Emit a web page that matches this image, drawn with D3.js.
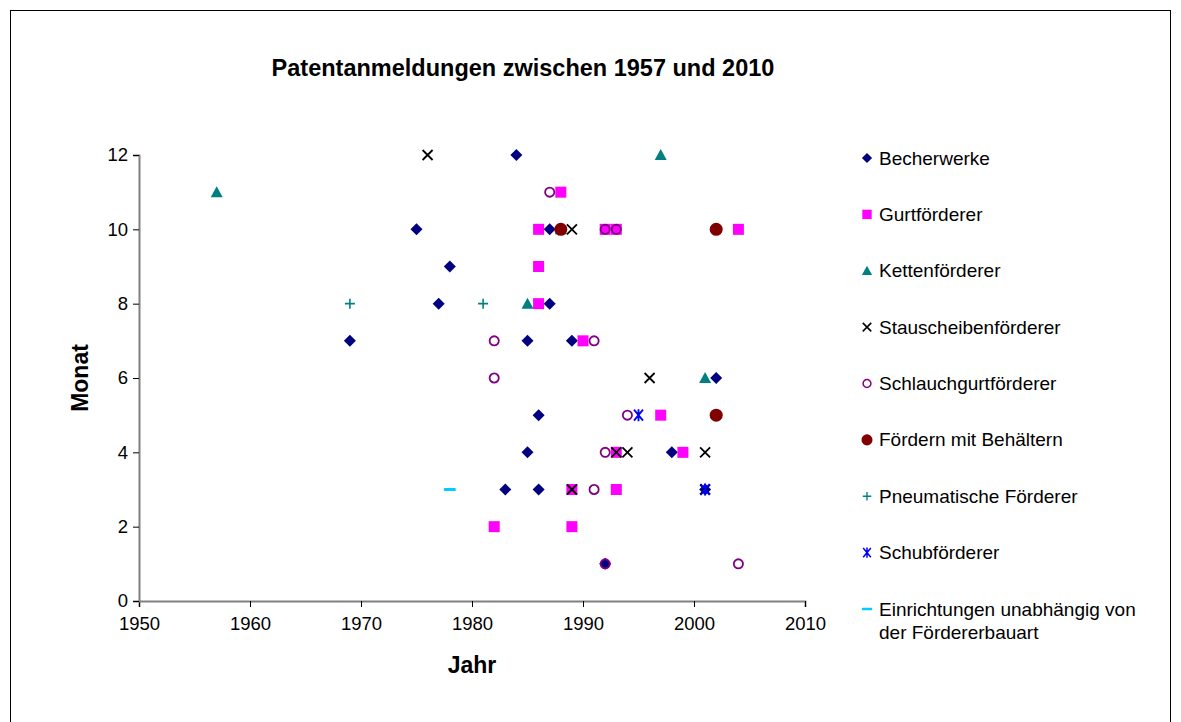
<!DOCTYPE html>
<html>
<head>
<meta charset="utf-8">
<script src="https://cdn.jsdelivr.net/npm/d3@7"></script>
<style>
  body { margin: 0; background: #fff; }
  text { font-family: "Liberation Sans", Arial, sans-serif; }
</style>
</head>
<body>
<svg id="chart" width="1181" height="722"></svg>
<script>
// [year, month] per series
const becherwerke = [[1969, 7], [1975, 10], [1977, 8], [1978, 9], [1984, 12], [1985, 7], [1985, 4], [1983, 3],
  [1986, 5], [1986, 3], [1987, 10], [1987, 8], [1989, 7], [1992, 1], [1998, 4], [2001, 3], [2002, 6]];
const gurtfoerderer = [[1982, 2], [1986, 10], [1986, 9], [1986, 8], [1988, 11], [1989, 3], [1989, 2], [1990, 7],
  [1992, 10], [1993, 10], [1993, 4], [1993, 3], [1997, 5], [1999, 4], [2004, 10]];
const kettenfoerderer = [[1957, 11], [1985, 8], [1988, 10], [1997, 12], [2001, 6]];
const stauscheiben = [[1976, 12], [1989, 10], [1989, 3], [1993, 4], [1994, 4], [1996, 6], [2001, 4], [2001, 3]];
const schlauchgurt = [[1982, 7], [1982, 6], [1987, 11], [1991, 7], [1991, 3], [1992, 10], [1993, 10], [1992, 4],
  [1992, 1], [1994, 5], [2004, 1]];
const behaelter = [[1988, 10], [2002, 10], [2002, 5]];
const pneumatisch = [[1969, 8], [1981, 8]];
const schub = [[1995, 5], [2001, 3]];
const einrichtungen = [[1978, 3]];

const xTicks = [1950, 1960, 1970, 1980, 1990, 2000, 2010];
const yTicks = [0, 2, 4, 6, 8, 10, 12];

const series = [
  { name: 'Becherwerke', data: becherwerke, marker: 'diamond', color: '#000080' },
  { name: 'Gurtförderer', data: gurtfoerderer, marker: 'square', color: '#FF00FF' },
  { name: 'Kettenförderer', data: kettenfoerderer, marker: 'triangle', color: '#008080' },
  { name: 'Stauscheibenförderer', data: stauscheiben, marker: 'x', color: '#000000' },
  { name: 'Schlauchgurtförderer', data: schlauchgurt, marker: 'ring', color: '#800080' },
  { name: 'Fördern mit Behältern', data: behaelter, marker: 'circle', color: '#800000' },
  { name: 'Pneumatische Förderer', data: pneumatisch, marker: 'plus', color: '#008080' },
  { name: 'Schubförderer', data: schub, marker: 'star', color: '#0000FF' },
  { name: ['Einrichtungen unabhängig von', 'der Fördererbauart'], data: einrichtungen, marker: 'dash', color: '#00CCFF' }
];

const svg = d3.select('#chart');

svg.append('rect')
  .attr('x', 10.5).attr('y', 10.5)
  .attr('width', 1160).attr('height', 730)
  .attr('fill', 'none').attr('stroke', '#000').attr('stroke-width', 1);

const x = d3.scaleLinear().domain([1950, 2010]).range([139, 805]);
const y = d3.scaleLinear().domain([0, 12]).range([601, 155]);

// title
svg.append('text')
  .attr('x', 523).attr('y', 76)
  .attr('text-anchor', 'middle')
  .attr('font-size', 23.5).attr('font-weight', 'bold')
  .text('Patentanmeldungen zwischen 1957 und 2010');

// axes
const xAxis = svg.append('g')
  .attr('transform', `translate(0,${y(0)})`)
  .call(d3.axisBottom(x).tickValues(xTicks).tickFormat(d3.format('d')).tickSize(6).tickPadding(10));
const yAxis = svg.append('g')
  .attr('transform', `translate(${x(1950)},0)`)
  .call(d3.axisLeft(y).tickValues(yTicks).tickSize(6).tickPadding(5));

[xAxis, yAxis].forEach(g => {
  g.select('.domain').attr('stroke', '#808080').attr('stroke-width', 2);
  g.selectAll('.tick line').attr('stroke', '#000');
  g.selectAll('.tick text')
    .attr('font-size', 18.5)
    .attr('font-family', '"Liberation Sans", Arial, sans-serif')
    .attr('fill', '#000');
});

svg.append('text')
  .attr('x', 472).attr('y', 673)
  .attr('text-anchor', 'middle')
  .attr('font-size', 23).attr('font-weight', 'bold')
  .text('Jahr');

svg.append('text')
  .attr('transform', 'translate(88,378) rotate(-90)')
  .attr('text-anchor', 'middle')
  .attr('font-size', 23).attr('font-weight', 'bold')
  .text('Monat');

function drawMarker(g, type, color) {
  switch (type) {
    case 'diamond':
      g.append('path').attr('d', 'M0,-6L6,0L0,6L-6,0Z').attr('fill', color);
      break;
    case 'square':
      g.append('rect').attr('x', -5.5).attr('y', -5.5).attr('width', 11).attr('height', 11).attr('fill', color);
      break;
    case 'triangle':
      g.append('path').attr('d', 'M0,-6L6,5L-6,5Z').attr('fill', color);
      break;
    case 'x':
      g.append('path').attr('d', 'M-5,-5L5,5M-5,5L5,-5').attr('stroke', color).attr('stroke-width', 1.8);
      break;
    case 'ring':
      g.append('circle').attr('r', 4.6).attr('fill', 'none').attr('stroke', color).attr('stroke-width', 1.8);
      break;
    case 'circle':
      g.append('circle').attr('r', 6.5).attr('fill', color);
      break;
    case 'plus':
      g.append('path').attr('d', 'M-5,0L5,0M0,-5L0,5').attr('stroke', color).attr('stroke-width', 1.6);
      break;
    case 'star':
      g.append('path').attr('d', 'M-4.5,-5.5L4.5,5.5M-4.5,5.5L4.5,-5.5M0,-6L0,6').attr('stroke', color).attr('stroke-width', 1.8);
      break;
    case 'dash':
      g.append('rect').attr('x', -6).attr('y', -1.5).attr('width', 12).attr('height', 3).attr('rx', 1).attr('fill', color);
      break;
  }
}

// points
series.forEach(s => {
  const g = svg.append('g');
  g.selectAll('g')
    .data(s.data)
    .join('g')
    .attr('transform', d => `translate(${x(d[0])},${y(d[1])})`)
    .each(function () { drawMarker(d3.select(this), s.marker, s.color); });
});

// legend
const legendRow = d3.scaleLinear().domain([0, 8]).range([158, 609]);
series.forEach((s, i) => {
  const row = svg.append('g').attr('transform', `translate(867,${legendRow(i)})`);
  const m = row.append('g').attr('transform', 'scale(0.85)');
  drawMarker(m, s.marker, s.color);
  const names = Array.isArray(s.name) ? s.name : [s.name];
  const t = row.append('text').attr('x', 12).attr('y', 6.5).attr('font-size', 19);
  names.forEach((n, j) => {
    t.append('tspan').attr('x', 12).attr('dy', j === 0 ? 0 : 23).text(n);
  });
});
</script>
</body>
</html>
